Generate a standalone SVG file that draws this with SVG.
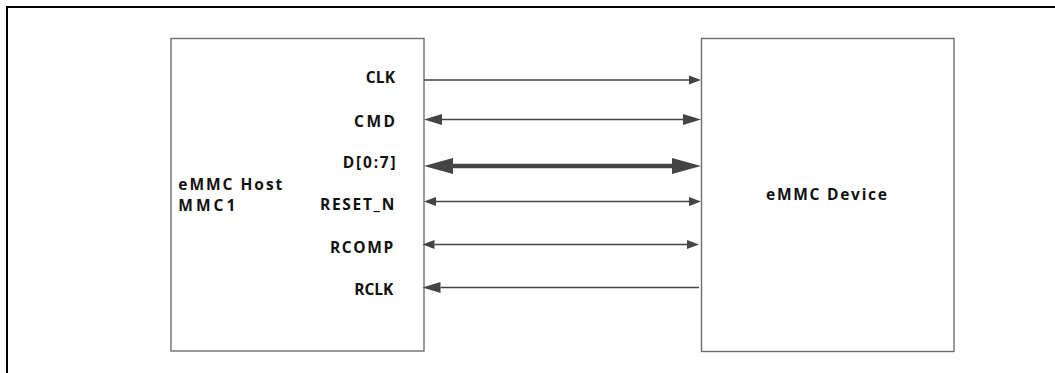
<svg xmlns="http://www.w3.org/2000/svg" width="1055" height="373" viewBox="0 0 1055 373">
  <style>
    .frame { fill: none; stroke: #000; stroke-width: 2; }
    .box { fill: #fff; stroke: #6e6e6e; stroke-width: 1.4; }
    .lbl { font-family: "Open Sans", "Liberation Sans", sans-serif; font-weight: bold; font-size: 15.5px; fill: #111; }
    .wire { stroke: #444; stroke-width: 1.6; fill: none; }
    .bus { stroke: #444; stroke-width: 4.5; fill: none; }
  </style>
  <defs>
    <marker id="arrS" markerUnits="userSpaceOnUse" markerWidth="14" markerHeight="12" refX="0" refY="6" orient="auto-start-reverse" viewBox="0 0 14 12">
      <path d="M0,1.5 L12,6 L0,10.5 Z" fill="#444"/>
    </marker>
    <marker id="arrM" markerUnits="userSpaceOnUse" markerWidth="20" markerHeight="14" refX="0" refY="7" orient="auto-start-reverse" viewBox="0 0 20 14">
      <path d="M0,1.5 L18,7 L0,12.5 Z" fill="#444"/>
    </marker>
    <marker id="arrL" markerUnits="userSpaceOnUse" markerWidth="31" markerHeight="18" refX="0" refY="9" orient="auto-start-reverse" viewBox="0 0 31 18">
      <path d="M0,1 L29,9 L0,17 Z" fill="#444"/>
    </marker>
  </defs>
  <rect width="1055" height="373" fill="#fff"/>
  <rect class="frame" x="7" y="7" width="1060" height="380"/>

  <g id="host">
    <rect class="box" x="171" y="38.5" width="253" height="312.5"/>
    <text class="lbl" x="178.3" y="190" textLength="104" lengthAdjust="spacing">eMMC Host</text>
    <text class="lbl" x="178.3" y="211" textLength="57" lengthAdjust="spacing">MMC1</text>
  </g>
  <g id="device">
    <rect class="box" x="701.5" y="38.5" width="252.5" height="313"/>
    <text class="lbl" x="766" y="200" textLength="121" lengthAdjust="spacing">eMMC Device</text>
  </g>

  <g id="labels">
    <text class="lbl" x="365.7" y="83" textLength="29.3" lengthAdjust="spacing">CLK</text>
    <text class="lbl" x="354" y="126.5" textLength="41" lengthAdjust="spacing">CMD</text>
    <text class="lbl" x="342.7" y="168" textLength="53" lengthAdjust="spacing">D[0:7]</text>
    <text class="lbl" x="320" y="210" textLength="74.3" lengthAdjust="spacing">RESET_N</text>
    <text class="lbl" x="330" y="253" textLength="63.3" lengthAdjust="spacing">RCOMP</text>
    <text class="lbl" x="354.3" y="295" textLength="39" lengthAdjust="spacing">RCLK</text>
  </g>

  <g id="connectors">
    <line class="wire" x1="424" y1="80" x2="689" y2="80" marker-end="url(#arrS)"/>
    <line class="wire" x1="442" y1="119.5" x2="683" y2="119.5" marker-start="url(#arrM)" marker-end="url(#arrM)"/>
    <line class="bus" x1="453" y1="166" x2="672" y2="166" marker-start="url(#arrL)" marker-end="url(#arrL)"/>
    <line class="wire" x1="436" y1="201.5" x2="689" y2="201.5" marker-start="url(#arrS)" marker-end="url(#arrS)"/>
    <line class="wire" x1="434.5" y1="244.5" x2="687" y2="244.5" marker-start="url(#arrS)" marker-end="url(#arrS)"/>
    <line class="wire" x1="440.5" y1="287.5" x2="699" y2="287.5" marker-start="url(#arrM)"/>
  </g>
</svg>
